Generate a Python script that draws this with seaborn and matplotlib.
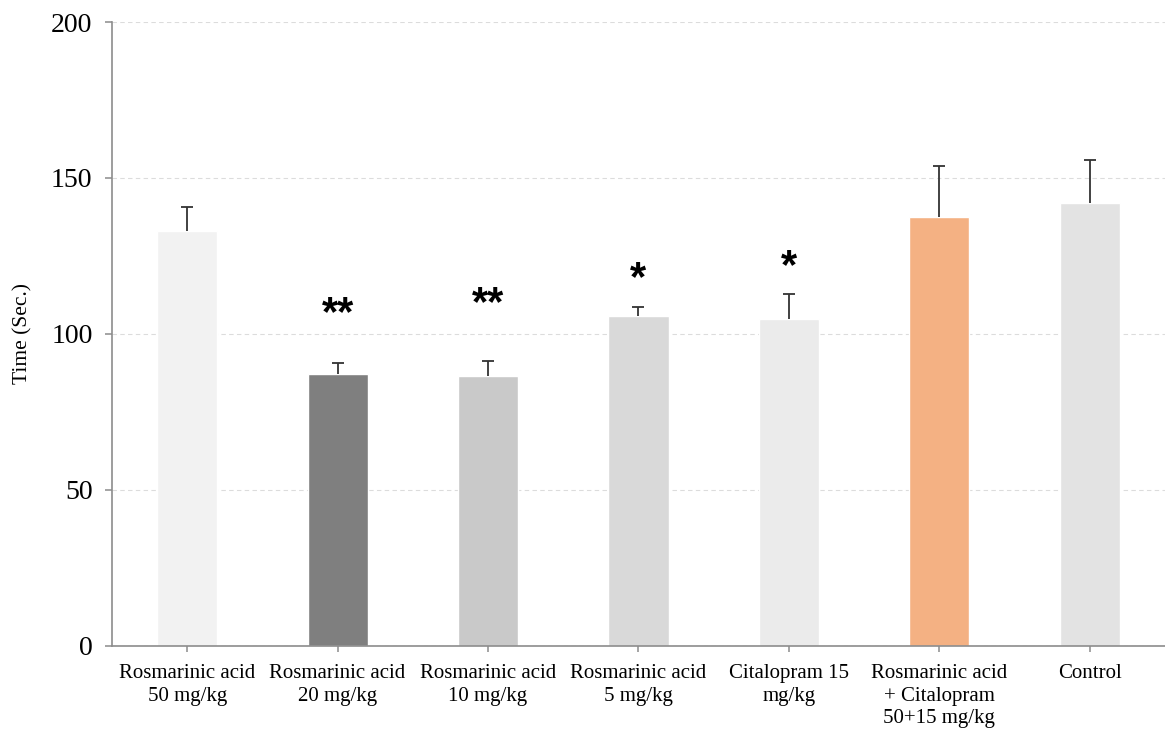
import matplotlib
matplotlib.use("Agg")
import matplotlib.pyplot as plt
import seaborn as sns
import pandas as pd
import numpy as np

# Chart data
groups = [
    "Rosmarinic acid\n50 mg/kg",
    "Rosmarinic acid\n20 mg/kg",
    "Rosmarinic acid\n10 mg/kg",
    "Rosmarinic acid\n5 mg/kg",
    "Citalopram 15\nmg/kg",
    "Rosmarinic acid\n+ Citalopram\n50+15 mg/kg",
    "Control",
]
means = [133.0, 87.2, 86.5, 105.8, 104.8, 137.5, 142.0]
errors = [7.8, 3.6, 4.8, 2.7, 8.0, 16.4, 13.9]
bar_colors = ["#f2f2f2", "#7f7f7f", "#c9c9c9", "#d9d9d9", "#ebebeb", "#f4b183", "#e3e3e3"]
signif = ["", "**", "**", "*", "*", "", ""]
signif_y = [0, 106.5, 109.5, 117.5, 121.5, 0, 0]
y_ticks = [0, 50, 100, 150, 200]

df = pd.DataFrame({"group": groups, "time": means})

sns.set_style("white")
plt.rcParams["font.family"] = ["Liberation Serif", "DejaVu Serif"]
plt.rcParams["text.color"] = "black"
plt.rcParams["xtick.color"] = "black"
plt.rcParams["ytick.color"] = "black"
plt.rcParams["axes.labelcolor"] = "black"

fig = plt.figure(figsize=(11.65, 7.31), dpi=100)
ax = fig.add_axes([0.0961, 0.1163, 0.9039, 0.8536])

sns.barplot(data=df, x="group", y="time", hue="group", palette=bar_colors,
            saturation=1, legend=False, width=0.4, ax=ax, zorder=2)

# upper-only error bars
x_pos = np.arange(len(groups))
eb = ax.errorbar(x_pos, means, yerr=[np.zeros(len(errors)), errors], fmt="none",
                 ecolor="#333333", elinewidth=1.3, capsize=4.5, capthick=1.3, zorder=3)
eb[1][0].set_visible(False)

for x, lab, y in zip(x_pos, signif, signif_y):
    if lab:
        ax.text(x, y, lab, ha="center", va="center", fontsize=30,
                fontweight="bold", color="black",
                family=["Liberation Sans", "DejaVu Sans"])

ax.set_ylim(0, 200)
ax.set_xlim(-0.5, len(groups) - 0.5)
ax.set_yticks(y_ticks)
ax.yaxis.grid(True, linestyle=(0, (4, 3)), color="#dcdcdc", linewidth=0.8, zorder=0)
ax.set_axisbelow(True)

for side in ["top", "right"]:
    ax.spines[side].set_visible(False)
for side in ["left", "bottom"]:
    ax.spines[side].set_color("#8c8c8c")
    ax.spines[side].set_linewidth(1.2)

ax.tick_params(axis="y", direction="out", length=5, width=1.1, color="#8c8c8c",
               labelcolor="black", labelsize=20, pad=9, left=True)
ax.tick_params(axis="x", direction="out", length=4, width=1.1, color="#8c8c8c",
               labelcolor="black", labelsize=15, pad=9, bottom=True)
for lbl in ax.get_xticklabels():
    lbl.set_linespacing(1.25)
ax.set_xlabel("")
ax.set_ylabel("Time (Sec.)", fontsize=15.5, labelpad=13)

fig.savefig("out.png", dpi=100)
